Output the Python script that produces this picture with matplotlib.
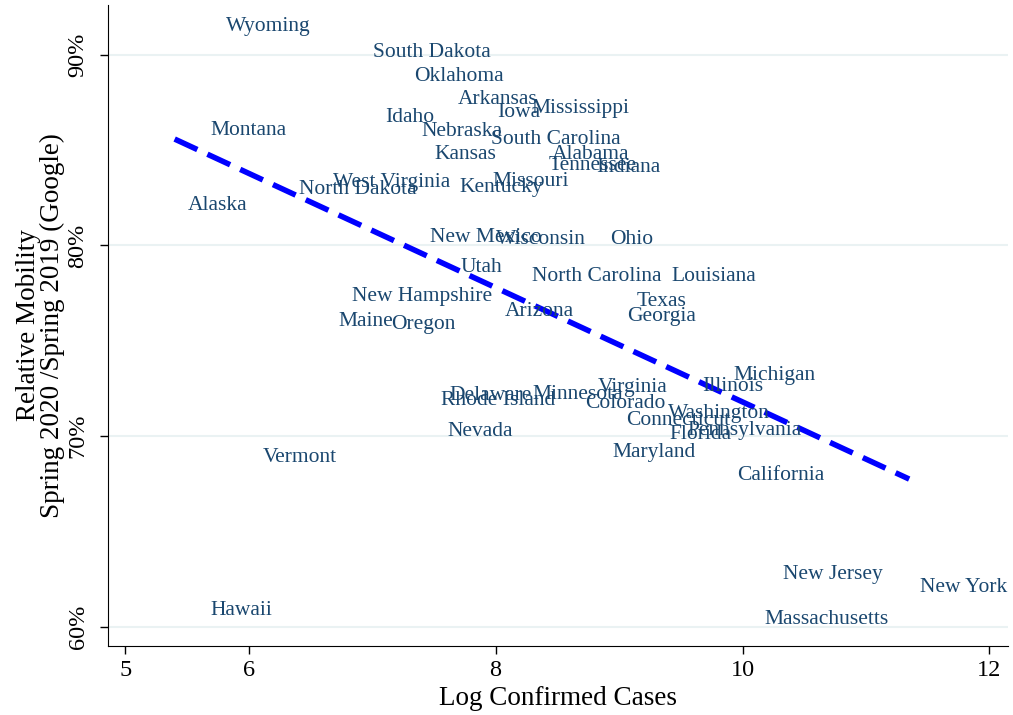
import matplotlib
matplotlib.use("Agg")
import matplotlib.pyplot as plt
import numpy as np

plt.rcParams['font.family'] = ['Liberation Serif', 'DejaVu Serif']

states = ["Wyoming", "South Dakota", "Oklahoma", "Arkansas", "Iowa", "Mississippi",
          "Idaho", "Nebraska", "South Carolina", "Montana", "Kansas", "Alabama",
          "Tennessee", "Indiana", "West Virginia", "North Dakota", "Kentucky", "Missouri",
          "Alaska", "New Mexico", "Wisconsin", "Ohio", "Utah", "North Carolina",
          "Louisiana", "Texas", "New Hampshire", "Georgia", "Arizona", "Maine",
          "Oregon", "Michigan", "Illinois", "Virginia", "Delaware", "Minnesota",
          "Rhode Island", "Colorado", "Connecticut", "Washington", "Pennsylvania", "Florida",
          "Nevada", "Maryland", "Vermont", "California", "New Jersey", "New York",
          "Hawaii", "Massachusetts"]
log_cases = [5.76, 6.95, 7.28, 7.64, 7.96, 8.23,
             7.05, 7.34, 7.91, 5.63, 7.45, 8.40,
             8.37, 8.76, 6.63, 6.35, 7.65, 7.92,
             5.45, 7.41, 7.95, 8.87, 7.66, 8.24,
             9.37, 9.09, 6.78, 9.01, 8.02, 6.67,
             7.10, 9.87, 9.62, 8.77, 7.57, 8.24,
             7.50, 8.67, 9.00, 9.34, 9.50, 9.35,
             7.55, 8.89, 6.06, 9.90, 10.27, 11.38,
             5.63, 10.12]
mobility = [91.63, 90.26, 89.00, 87.80, 87.12, 87.33,
            86.85, 86.12, 85.70, 86.17, 84.91, 84.91,
            84.34, 84.23, 83.45, 83.08, 83.18, 83.50,
            82.24, 80.56, 80.46, 80.46, 78.99, 78.52,
            78.52, 77.20, 77.47, 76.42, 76.68, 76.16,
            76.00, 73.32, 72.75, 72.70, 72.28, 72.33,
            72.01, 71.86, 70.96, 71.33, 70.44, 70.23,
            70.39, 69.29, 69.02, 68.08, 62.89, 62.21,
            61.00, 60.53]

x_ticks = [5, 6, 8, 10, 12]
y_ticks = [60, 70, 80, 90]
y_tick_labels = ["60%", "70%", "80%", "90%"]

fig = plt.figure(figsize=(10.13, 7.15), dpi=100)
ax = fig.add_axes([0.1066, 0.0965, 0.8884, 0.8965])

label_color = "#1a476f"
for name, xv, yv in zip(states, log_cases, mobility):
    ax.annotate(name, (xv, yv), xytext=(5, -2), textcoords="offset points",
                ha="left", va="center", color=label_color, fontsize=15.5)

xs = np.array(log_cases)
ys = np.array(mobility)
slope, intercept = np.polyfit(xs, ys, 1)
xfit = np.array([xs.min() - 0.05, xs.max() - 0.03])
ax.plot(xfit, intercept + slope * xfit, color="#0000ff", lw=4,
        linestyle=(0, (4.5, 2)), solid_capstyle="butt", dash_capstyle="butt")

ax.set_xlim(4.86, 12.15)
ax.set_ylim(59.0, 92.6)
ax.set_xticks(x_ticks)
ax.set_yticks(y_ticks)
ax.set_yticklabels(y_tick_labels, rotation=90, va="center")
ax.tick_params(axis="both", labelsize=17.5, direction="out", length=6, width=1, color="black")
ax.tick_params(axis="y", pad=8)
ax.tick_params(axis="x", pad=4)
ax.grid(axis="y", color="#eaf2f3", lw=1.5)
ax.set_axisbelow(True)
for s in ["top", "right"]:
    ax.spines[s].set_visible(False)
ax.set_xlabel("Log Confirmed Cases", fontsize=19.5, labelpad=4)
ax.set_ylabel("Relative Mobility\nSpring 2020 /Spring 2019 (Google)", fontsize=19.5,
              labelpad=2, linespacing=0.95)

fig.savefig("out.png", dpi=100)
